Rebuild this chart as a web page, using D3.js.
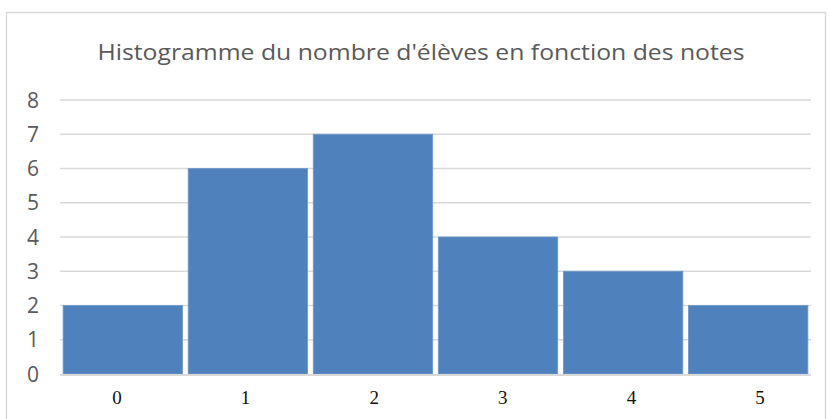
<!DOCTYPE html>
<meta charset="utf-8">
<style>
    body { margin: 0; background: #fff; }
    .title { font: 400 21px "Open Sans", sans-serif; fill: #595959; text-anchor: middle; }
    .ylab { font: 21px "Open Sans", sans-serif; fill: #595959; text-anchor: middle; }
    .xlab { font: 19px "Liberation Serif", serif; fill: #111; text-anchor: middle; }
</style>
<body>
    <svg width="829" height="419"></svg>
</body>
<script src="https://d3js.org/d3.v7.min.js"></script>
<script>
    // notes and number of pupils per note
    var notes = ["0", "1", "2", "3", "4", "5"];
    var eleves = [2, 6, 7, 4, 3, 2];
    var yTicks = [0, 1, 2, 3, 4, 5, 6, 7, 8];
    var titre = "Histogramme du nombre d'élèves en fonction des notes";

    var svg = d3.select("svg");

    // chart frame
    svg.append("rect")
        .attr("x", 6.5).attr("y", 12.5)
        .attr("width", 819).attr("height", 420)
        .attr("fill", "#fff")
        .attr("stroke", "#d9d9d9")
        .attr("stroke-width", 1.5);

    var plotLeft = 60, plotRight = 811, plotTop = 100, plotBottom = 374;

    var x = d3.scaleBand()
        .domain(notes)
        .range([plotLeft, plotRight])
        .paddingInner(0.045)
        .paddingOuter(0.025);

    // the note labels sit on their own, slightly wider spacing
    var xLab = d3.scalePoint()
        .domain(notes)
        .range([117, 760]);

    var y = d3.scaleLinear()
        .domain([0, 8])
        .range([plotBottom, plotTop]);

    svg.append("text")
        .attr("class", "title")
        .attr("x", 421)
        .attr("y", 60)
        .attr("textLength", 647)
        .attr("lengthAdjust", "spacingAndGlyphs")
        .text(titre);

    // gridlines
    svg.selectAll(".grid")
        .data(yTicks.slice(1))
        .enter().append("line")
        .attr("x1", plotLeft).attr("x2", plotRight)
        .attr("y1", function (d) { return y(d); })
        .attr("y2", function (d) { return y(d); })
        .attr("stroke", "#d9d9d9")
        .attr("stroke-width", 1.3);

    svg.selectAll(".ylab")
        .data(yTicks)
        .enter().append("text")
        .attr("class", "ylab")
        .attr("x", 33)
        .attr("y", function (d) { return y(d) + 7.5; })
        .text(function (d) { return d; });

    svg.selectAll(".bar")
        .data(eleves)
        .enter().append("rect")
        .attr("class", "bar")
        .attr("x", function (d, i) { return x(notes[i]); })
        .attr("width", x.bandwidth())
        .attr("y", function (d) { return y(d); })
        .attr("height", function (d) { return y(0) - y(d); })
        .attr("fill", "#4f81bd")
        .attr("stroke", "#6f98cc")
        .attr("stroke-width", 0.8);

    // category axis line
    svg.append("line")
        .attr("x1", plotLeft).attr("x2", plotRight)
        .attr("y1", plotBottom + 1).attr("y2", plotBottom + 1)
        .attr("stroke", "#d9d9d9")
        .attr("stroke-width", 2);

    svg.selectAll(".xlab")
        .data(notes)
        .enter().append("text")
        .attr("class", "xlab")
        .attr("x", function (d) { return xLab(d); })
        .attr("y", 404)
        .text(function (d) { return d; });
</script>
